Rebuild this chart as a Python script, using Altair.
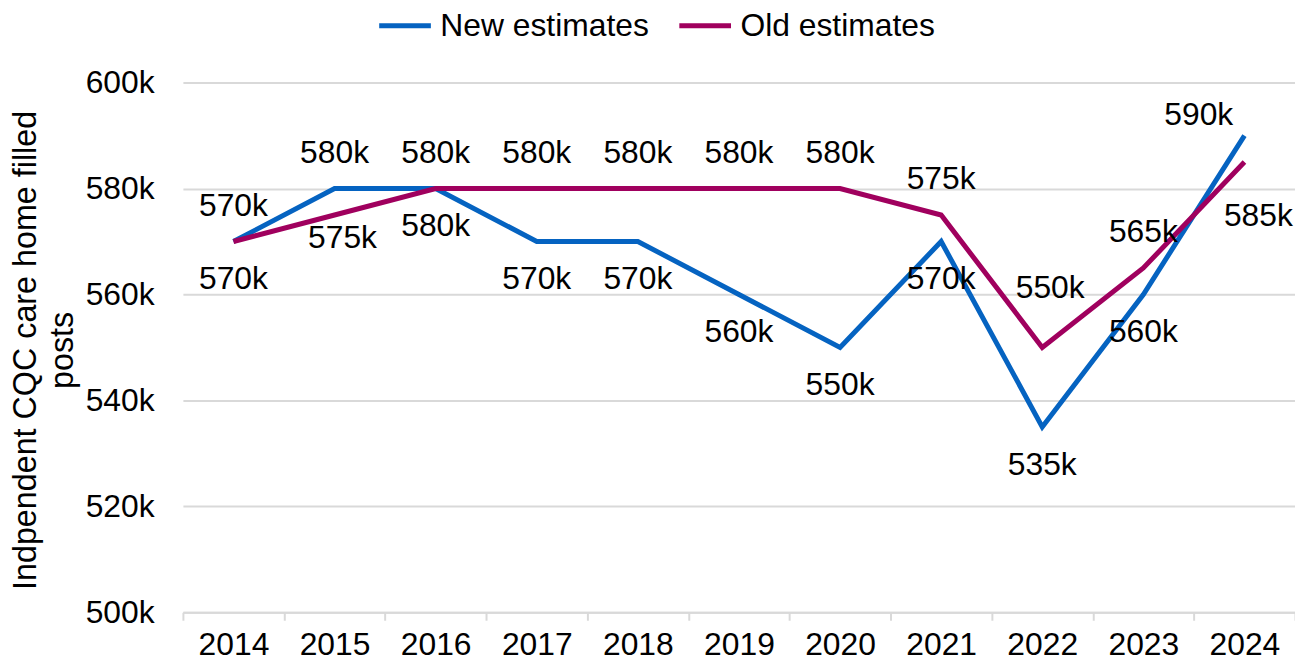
import altair as alt
import pandas as pd

# ---- data ----
years = ["2014", "2015", "2016", "2017", "2018", "2019", "2020", "2021", "2022", "2023", "2024"]
new_estimates = [570000, 580000, 580000, 570000, 570000, 560000, 550000, 570000, 535000, 560000, 590000]
old_estimates = [570000, 575000, 580000, 580000, 580000, 580000, 580000, 575000, 550000, 565000, 585000]
series_names = ["New estimates", "Old estimates"]
y_ticks = [500000, 520000, 540000, 560000, 580000, 600000]
# data-label placement codes (t = above, b = below, others are nudged variants)
new_label_place = ["b", "t", "b", "b", "b", "b", "b", "b", "b", "b", "tl"]
old_label_place = ["t", "b2", "t", "t", "t", "t", "t", "t", "t2", "t", "br"]

# ---- styles ----
BLUE = "#0563C1"
MAGENTA = "#A0005E"
GRID = "#d9d9d9"
FONT = "Liberation Sans"
FS = 32
PLACE_OFFSETS = {
    "t": (0, -36),
    "b": (0, 38),
    "b2": (8, 23),
    "t2": (8, -60),
    "tl": (-46, -21),
    "br": (14, 54),
}

rows = []
for i, yr in enumerate(years):
    rows.append(dict(year=yr, series=series_names[0], value=new_estimates[i], place=new_label_place[i]))
    rows.append(dict(year=yr, series=series_names[1], value=old_estimates[i], place=old_label_place[i]))
df = pd.DataFrame(rows)

x_enc = alt.X(
    "year:N",
    sort=years,
    scale=alt.Scale(paddingInner=0, paddingOuter=0),
    axis=alt.Axis(
        title=None,
        grid=False,
        tickBand="extent",
        domainColor=GRID,
        domainWidth=2,
        tickColor=GRID,
        tickWidth=2,
        tickSize=8,
        labelPadding=9,
        labelAngle=0,
        labelFont=FONT,
        labelFontSize=FS,
        labelColor="#000000",
    ),
)

y_enc = alt.Y(
    "value:Q",
    scale=alt.Scale(domain=[500000, 600000], nice=False, zero=False),
    axis=alt.Axis(
        values=y_ticks,
        format="~s",
        domain=False,
        ticks=False,
        tickSize=0,
        labelPadding=29,
        labelFont=FONT,
        labelFontSize=FS,
        labelColor="#000000",
        gridColor=GRID,
        gridWidth=2,
        title=["Indpendent CQC care home filled", "posts"],
        titleFont=FONT,
        titleFontSize=32.5,
        titleFontWeight="normal",
        titleColor="#000000",
        titleAngle=270,
        titleAlign="center",
        titleBaseline="alphabetic",
        titleLineHeight=37,
        titleX=-148,
        titleY=269,
    ),
)

color_enc = alt.Color(
    "series:N",
    scale=alt.Scale(domain=series_names, range=[BLUE, MAGENTA]),
    legend=alt.Legend(
        title=None,
        orient="none",
        legendX=195,
        legendY=-86,
        direction="horizontal",
        symbolType="stroke",
        symbolSize=2704,
        symbolStrokeWidth=5,
        labelFont=FONT,
        labelFontSize=FS,
        labelColor="#000000",
        labelOffset=7,
        columnPadding=20,
        labelLimit=600,
        padding=0,
    ),
)

lines = alt.Chart(df).mark_line(strokeWidth=5).encode(x=x_enc, y=y_enc, color=color_enc)

label_layers = []
for code, (ddx, ddy) in PLACE_OFFSETS.items():
    label_layers.append(
        alt.Chart(df)
        .transform_filter(alt.datum.place == code)
        .mark_text(dx=ddx, dy=ddy, font=FONT, fontSize=FS, color="#000000", baseline="middle", align="center")
        .encode(x=x_enc, y=y_enc, text=alt.Text("value:Q", format="~s"))
    )

chart = (
    alt.layer(lines, *label_layers)
    .properties(
        width=1119,
        height=533,
        padding={"left": 176, "top": 73, "right": 0, "bottom": 52},
        autosize=alt.AutoSizeParams(type="none"),
    )
    .configure_view(stroke=None)
)

chart.save("out.html", embed_options={"renderer": "svg", "actions": False})
